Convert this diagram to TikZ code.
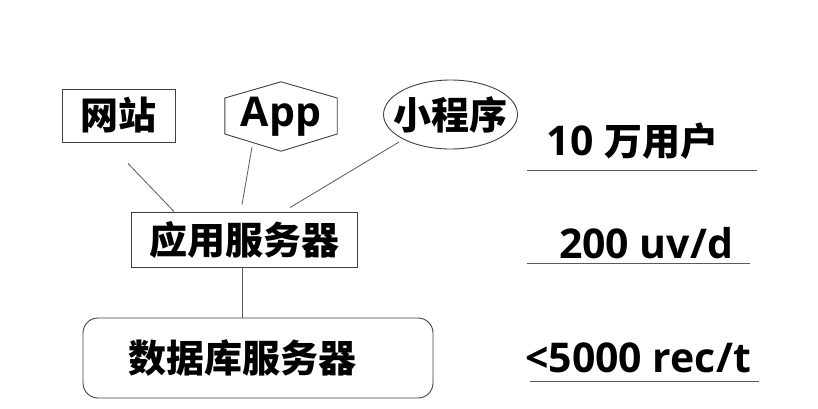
\documentclass[tikz,border=0pt]{standalone}
\usepackage{fontspec}
\setmainfont{Open Sans}
\newfontfamily\cjk{Noto Sans CJK SC}
\newcommand\latsz{\fontsize{41}{48}\selectfont}
\usetikzlibrary{shapes.geometric}
\begin{document}
\begin{tikzpicture}[x=1pt,y=-1pt,
  every node/.style={inner sep=0pt,font=\fontsize{38}{44}\selectfont\bfseries},
  boxa/.style={draw=black!75,line width=0.9pt},
  conn/.style={draw=black!65,line width=0.8pt},
  uline/.style={draw=black!65,line width=1pt}]
\useasboundingbox[fill=white] (0,0) rectangle (818,408);
% client nodes
\node[boxa,minimum width=113pt,minimum height=53pt] (web) at (118.5,115.5) {\cjk 网站};
\node[minimum width=112pt,minimum height=69pt] (app) at (281,116.5) {\latsz App};
\draw[boxa] ([yshift=18.5pt]app.west) -- (app.north) -- ([yshift=18.5pt]app.east)
  -- ([yshift=-17.5pt]app.east) -- (app.south) -- ([yshift=-17.5pt]app.west) -- cycle;
\node (mini) at (450.5,114.5) {\cjk 小程序};
\draw[boxa] (mini.center) ellipse [x radius=67pt, y radius=34.5pt];
% servers
\node[boxa,minimum width=226pt,minimum height=55pt] (appsrv) at (244,239.5) {\cjk 应用服务器};
\node[boxa,rounded corners=15pt,minimum width=350pt,minimum height=80pt] (db) at (258,358) {\hspace*{-32pt}\cjk 数据库服务器};
% connectors
\draw[conn] ([xshift=9.5pt,yshift=-21pt]web.south) -- ([xshift=-70pt]appsrv.north);
\draw[conn] ([xshift=-29pt,yshift=4pt]app.south) -- ([xshift=-2pt,yshift=7pt]appsrv.north);
\draw[conn] ([xshift=-51.5pt,yshift=-27.5pt]mini.center) -- ([xshift=46pt,yshift=4pt]appsrv.north);
\draw[conn] ([xshift=-2pt]appsrv.south) -- ([xshift=-16pt]db.north);
% metrics
\node[anchor=base] (m1) at (632.5,155) {\latsz 10 {\cjk\fontsize{38}{44}\selectfont 万用户}};
\node[anchor=base] (m2) at (646,258) {\latsz 200 uv/d};
\node[anchor=base] (m3) at (638,372) {\latsz <5000 rec/t};
\draw[uline] (527,170) -- (757,170);
\draw[uline] (527,263) -- (750,263);
\draw[uline] (530,381) -- (759,381);
\end{tikzpicture}
\end{document}
